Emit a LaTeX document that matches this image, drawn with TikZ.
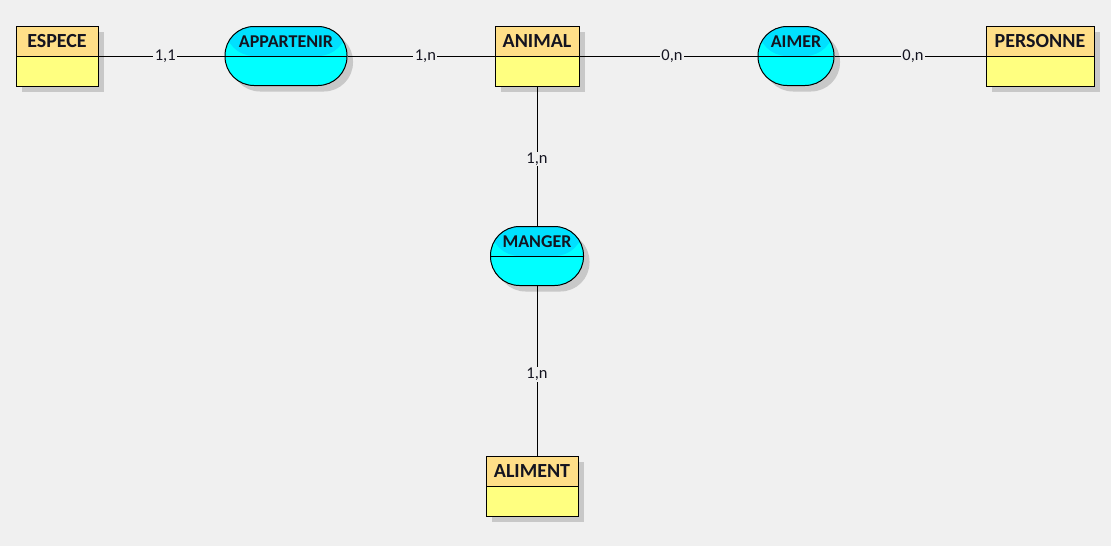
\documentclass[tikz,border=0pt]{standalone}
\usepackage{fontspec}
\setmainfont{Carlito}
\usetikzlibrary{shadows}

\definecolor{paper}{HTML}{F0F0F0}
\definecolor{enthead}{HTML}{FFDF88}
\definecolor{entbody}{HTML}{FFFF80}
\definecolor{asshead}{HTML}{00E0FF}
\definecolor{assbody}{HTML}{00FFFF}
\definecolor{shade}{HTML}{C8C8C8}
\definecolor{ink}{HTML}{141420}

\begin{document}
\begin{tikzpicture}[x=1pt, y=-1pt,
			every node/.style = {text=ink, inner sep=0pt},
			entity/.style = {shape=rectangle, draw, line width=1pt,
					fill=entbody, minimum width=#1, minimum height=60pt,
					text height=13pt, text depth=30pt,
					font=\bfseries\fontsize{20}{20}\selectfont,
					drop shadow={shadow xshift=6pt, shadow yshift=-6pt, fill=shade, opacity=1},
					path picture={
						\fill[enthead] (path picture bounding box.north west) rectangle (path picture bounding box.east);
						\draw[line width=1pt] (path picture bounding box.west) -- (path picture bounding box.east);}},
			relation/.style = {shape=rectangle, rounded corners=29pt, draw, line width=1pt,
					fill=assbody, minimum width=#1, minimum height=59pt,
					text height=12pt, text depth=29pt,
					font=\bfseries\fontsize{18}{18}\selectfont,
					drop shadow={shadow xshift=6pt, shadow yshift=-6pt, fill=shade, opacity=1},
					path picture={
						\fill[asshead] (path picture bounding box.north west) rectangle (path picture bounding box.east);
						\draw[line width=1pt] (path picture bounding box.west) -- (path picture bounding box.east);}},
			card/.style = {fill=paper, inner xsep=1.5pt, inner ysep=1pt,
					font=\fontsize{16.5}{16.5}\selectfont},
			link/.style = {draw, line width=1pt}]
	% background and margins
	\fill[paper] (0,0) rectangle (1111,546);
	\useasboundingbox (0,0) rectangle (1111,546);

	% entities
	\node[entity=82pt] (espece) at (57,56) {ESPECE};
	\node[entity=84pt] (animal) at (537,56) {ANIMAL};
	\node[entity=108pt] (personne) at (1040,56) {PERSONNE};
	\node[entity=92pt] (aliment) at (532,486) {ALIMENT};

	% associations
	\node[relation=122pt] (appartenir) at (286,56) {APPARTENIR};
	\node[relation=76pt] (aimer) at (796,56) {AIMER};
	\node[relation=93pt] (manger) at (537,256) {MANGER};

	% links with cardinalities
	\path[link] (espece) -- node[card, pos=0.53] {1,1} (appartenir);
	\path[link] (appartenir) -- node[card, pos=0.53] {1,n} (animal);
	\path[link] (animal) -- node[card, pos=0.52] {0,n} (aimer);
	\path[link] (aimer) -- node[card, pos=0.52] {0,n} (personne);
	\path[link] (animal) -- node[card, pos=0.52] {1,n} (manger);
	\path[link] (manger.south) -- node[card, pos=0.52] {1,n} (manger.south |- aliment.north);
\end{tikzpicture}
\end{document}
